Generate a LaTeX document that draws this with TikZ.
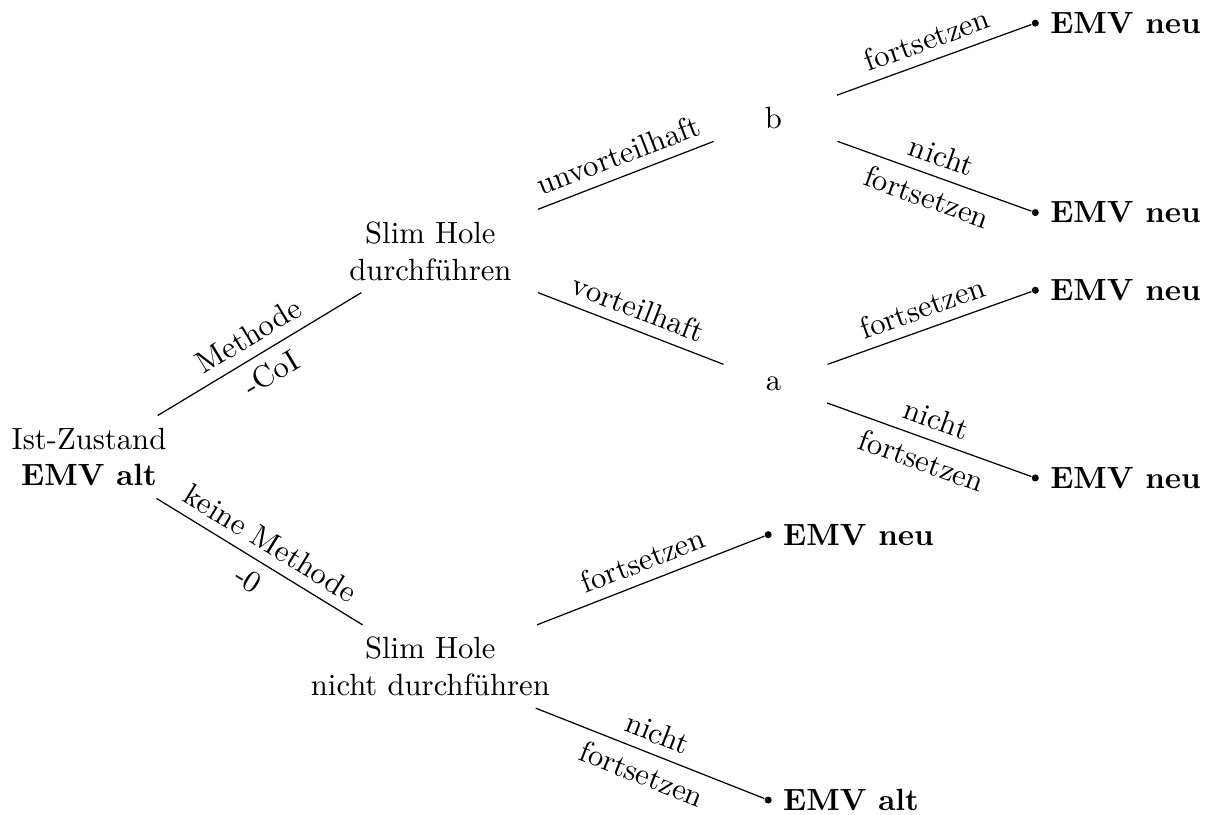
\documentclass[tikz,border=0pt]{standalone}
\usepackage{tikz}

\begin{document}
\begin{tikzpicture}[leaf/.style={circle, fill, inner sep=0pt, minimum size=2.3pt}]
        \useasboundingbox (-1.02,-4.09) rectangle (12.91,5.235);
        \begin{scope}[every node/.style={align=center, minimum width=3cm, inner ysep=3.8pt}]
            \node (root) at (0,0) {Ist-Zustand\\\textbf{EMV alt}};
            \node (sh1) at (3.91,2.36) {Slim Hole\\durchführen};
            \node (sh0) at (3.91,-2.40) {Slim Hole\\nicht durchführen};
            \node (b) at (7.84,3.88) {b};
            \node (a) at (7.84,0.84) {a};
        \end{scope}
        \node [leaf, label=right:\textbf{EMV neu}] (bf) at (10.84,4.97) {};
        \node [leaf, label=right:\textbf{EMV neu}] (bn) at (10.84,2.80) {};
        \node [leaf, label=right:\textbf{EMV neu}] (af) at (10.84,1.91) {};
        \node [leaf, label=right:\textbf{EMV neu}] (an) at (10.84,-0.24) {};
        \node [leaf, label=right:\textbf{EMV neu}] (sf) at (7.78,-0.89) {};
        \node [leaf, label=right:\textbf{EMV alt}] (sn) at (7.78,-3.93) {};
        \begin{scope}[every node/.style={sloped}]
            \path (root) edge node [above] {Methode} node [below] {-CoI} (sh1);
            \path (root) edge node [above] {keine Methode} node [below] {-0} (sh0);
            \path (sh1) edge node [above] {unvorteilhaft} (b);
            \path (sh1) edge node [above] {vorteilhaft} (a);
            \path (b) edge node [above] {fortsetzen} (bf);
            \path (b) edge node [above] {nicht} node [below] {fortsetzen} (bn);
            \path (a) edge node [above] {fortsetzen} (af);
            \path (a) edge node [above] {nicht} node [below] {fortsetzen} (an);
            \path (sh0) edge node [above] {fortsetzen} (sf);
            \path (sh0) edge node [above] {nicht} node [below] {fortsetzen} (sn);
        \end{scope}
    \end{tikzpicture}
\end{document}
